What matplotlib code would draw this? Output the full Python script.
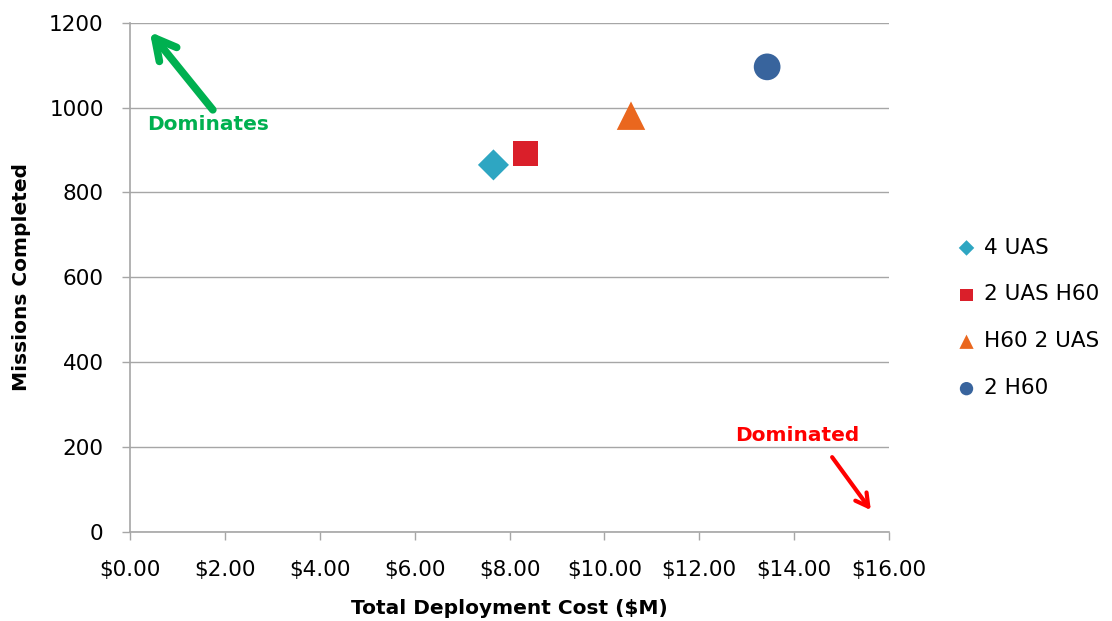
import matplotlib.pyplot as plt
from matplotlib.ticker import FuncFormatter

# cost ($M) vs missions completed for each force mix
configs = ['4 UAS', '2 UAS H60', 'H60 2 UAS', '2 H60']
cost = [7.66, 8.34, 10.56, 13.43]
missions = [865, 892, 981, 1096]
markers = ['D', 's', '^', 'o']
colors = ['#2EA6C2', '#DA1F2A', '#EA671E', '#38649D']
sizes = [250, 330, 420, 370]

x_ticks = [0, 2, 4, 6, 8, 10, 12, 14, 16]
y_ticks = [0, 200, 400, 600, 800, 1000, 1200]

grid_col = '#A6A6A6'

fig = plt.figure(figsize=(11.12, 6.21), dpi=100)
ax = fig.add_axes([0.117, 0.1433, 0.6825, 0.8201])

for name, xv, yv, m, c, s in zip(configs, cost, missions, markers, colors, sizes):
    ax.scatter(xv, yv, marker=m, s=s, color=c, label=name, zorder=3,
               edgecolors='none')

ax.set_xlim(0, 16)
ax.set_ylim(0, 1200)
ax.set_xticks(x_ticks)
ax.set_yticks(y_ticks)
ax.xaxis.set_major_formatter(FuncFormatter(lambda v, p: '${:.2f}'.format(v)))
ax.yaxis.grid(True, color=grid_col, lw=1.0, zorder=0)
ax.set_axisbelow(True)

for side in ['top', 'right']:
    ax.spines[side].set_visible(False)
for side in ['left', 'bottom']:
    ax.spines[side].set_color(grid_col)
    ax.spines[side].set_linewidth(1.2)

ax.tick_params(axis='both', colors=grid_col, labelcolor='black',
               labelsize=15.5, length=6, width=1.0)
ax.tick_params(axis='x', pad=14)
ax.tick_params(axis='y', pad=13)

ax.set_xlabel('Total Deployment Cost ($M)', fontsize=14.5, fontweight='bold',
              labelpad=14)
ax.set_ylabel('Missions Completed', fontsize=14.5, fontweight='bold',
              labelpad=13)

# direction hints
ax.annotate('', xy=(0.026, 0.982), xytext=(0.109, 0.829),
            xycoords='axes fraction', textcoords='axes fraction',
            arrowprops=dict(arrowstyle='->,head_length=1.5,head_width=0.8',
                            color='#00B050', lw=5.5, capstyle='round',
                            joinstyle='round', shrinkA=0, shrinkB=0))
ax.text(0.103, 0.80, 'Dominates', transform=ax.transAxes, color='#00B050',
        fontsize=14.5, fontweight='bold', ha='center', va='center')

ax.annotate('', xy=(0.976, 0.043), xytext=(0.925, 0.147),
            xycoords='axes fraction', textcoords='axes fraction',
            arrowprops=dict(arrowstyle='->,head_length=0.9,head_width=0.5',
                            color='#FF0000', lw=3, capstyle='round',
                            joinstyle='round', shrinkA=0, shrinkB=0))
ax.text(0.879, 0.19, 'Dominated', transform=ax.transAxes, color='#FF0000',
        fontsize=14.5, fontweight='bold', ha='center', va='center')

handles, labels = ax.get_legend_handles_labels()
leg = fig.legend(handles, labels, loc='center left',
                 bbox_to_anchor=(0.844, 0.488), frameon=False, fontsize=15.5,
                 handletextpad=0.4, labelspacing=1.25, markerscale=0.5,
                 handlelength=0.8)

fig.savefig('out.png', dpi=100)
